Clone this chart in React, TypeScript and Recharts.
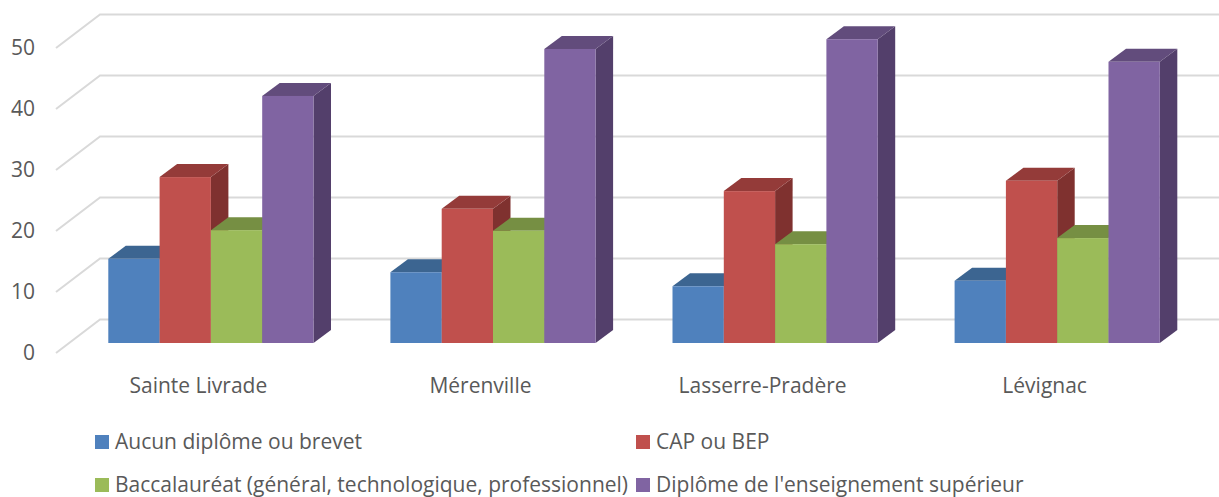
import { BarChart, Bar, XAxis, YAxis, CartesianGrid, Legend } from 'recharts';

const communes = ['Sainte Livrade', 'Mérenville', 'Lasserre-Pradère', 'Lévignac'];
const aucun = [13.8, 11.6, 9.3, 10.2];
const cap = [27.2, 22, 24.9, 26.6];
const bac = [18.5, 18.4, 16.2, 17.2];
const superieur = [40.5, 48.2, 49.8, 46.1];
const yTicks = [0, 10, 20, 30, 40, 50];

const seriesNames = [
  'Aucun diplôme ou brevet',
  'CAP ou BEP',
  'Baccalauréat (général, technologique, professionnel)',
  "Diplôme de l'enseignement supérieur",
];

const chartData = communes.map((name, i) => ({
  name,
  aucun: aucun[i],
  cap: cap[i],
  bac: bac[i],
  superieur: superieur[i],
}));

const FONT = '"Open Sans", sans-serif';
const FONT_SIZE = 21;
const TEXT = '#595959';
const GRID = '#d9d9d9';

// depth of each 3D column
const DX = 17.5;
const DY = -13;

function Box3D({ x, y, width, height, fill, top, side }: any) {
  const r = x + width;
  const b = y + height;
  return (
    <g>
      <polygon points={`${r},${y} ${r + DX},${y + DY} ${r + DX},${b + DY} ${r},${b}`} fill={side} />
      <polygon points={`${x},${y} ${x + DX},${y + DY} ${r + DX},${y + DY} ${r},${y}`} fill={top} />
      <rect x={x} y={y} width={width} height={height} fill={fill} />
    </g>
  );
}

// floor/wall gridline: diagonal on the side wall, then flat along the back wall
function gridLine(props: any) {
  const y = props.y1;
  return (
    <polyline
      key={props.key ?? y}
      points={`56,${y + 10} 100,${y - 23.5} 1219,${y - 23.5}`}
      fill="none"
      stroke={GRID}
      strokeWidth={2}
    />
  );
}

function YTick({ y, payload }: any) {
  return (
    <text x={35} y={y + 9} textAnchor="end" dominantBaseline="central" fontFamily={FONT} fontSize={FONT_SIZE} fill={TEXT}>
      {payload.value}
    </text>
  );
}

function XTick({ x, payload }: any) {
  return (
    <text x={x - 13} y={384.5} textAnchor="middle" dominantBaseline="central" fontFamily={FONT} fontSize={FONT_SIZE} fill={TEXT}>
      {payload.value}
    </text>
  );
}

function LegendBox({ payload }: any) {
  const cols = [95, 636];
  const rows = [17, 60];
  return (
    <div style={{ position: 'relative', width: 1219, height: 72, fontFamily: FONT, fontSize: FONT_SIZE, color: TEXT }}>
      {(payload || []).map((p: any, i: number) => (
        <div key={p.value} style={{ position: 'absolute', left: cols[i % 2], top: rows[Math.floor(i / 2)], height: 0, whiteSpace: 'nowrap' }}>
          <span style={{ position: 'absolute', left: 0, top: -7, width: 14, height: 14, background: p.color }} />
          <span style={{ position: 'absolute', left: 20, top: -13, lineHeight: '24px' }}>{p.value}</span>
        </div>
      ))}
    </div>
  );
}

export default function App() {
  return (
    <div style={{ position: 'absolute', left: 0, top: 0 }}>
      <BarChart
        width={1219}
        height={497}
        data={chartData}
        margin={{ top: 38, right: 20.3, bottom: 0, left: 0 }}
        barSize={51.3}
        barGap={0}
      >
        <CartesianGrid vertical={false} horizontal={gridLine} />
        <XAxis dataKey="name" axisLine={false} tickLine={false} height={154} tick={<XTick />} interval={0} />
        <YAxis width={70.3} domain={[0, 50]} ticks={yTicks} axisLine={false} tickLine={false} tick={<YTick />} />
        <Legend
          layout="horizontal"
          verticalAlign="middle"
          align="center"
          itemSorter={null}
          wrapperStyle={{ left: 0, top: 425, width: 1219, height: 72, margin: 0 }}
          content={<LegendBox />}
        />
        <Bar dataKey="aucun" name={seriesNames[0]} fill="#4f81bd" isAnimationActive={false} shape={<Box3D top="#3c6591" side="#345980" />} />
        <Bar dataKey="cap" name={seriesNames[1]} fill="#c0504d" isAnimationActive={false} shape={<Box3D top="#943b39" side="#7f312f" />} />
        <Bar dataKey="bac" name={seriesNames[2]} fill="#9bbb59" isAnimationActive={false} shape={<Box3D top="#768f43" side="#677d3a" />} />
        <Bar dataKey="superieur" name={seriesNames[3]} fill="#8064a2" isAnimationActive={false} shape={<Box3D top="#624c7c" side="#533f6b" />} />
      </BarChart>
    </div>
  );
}
